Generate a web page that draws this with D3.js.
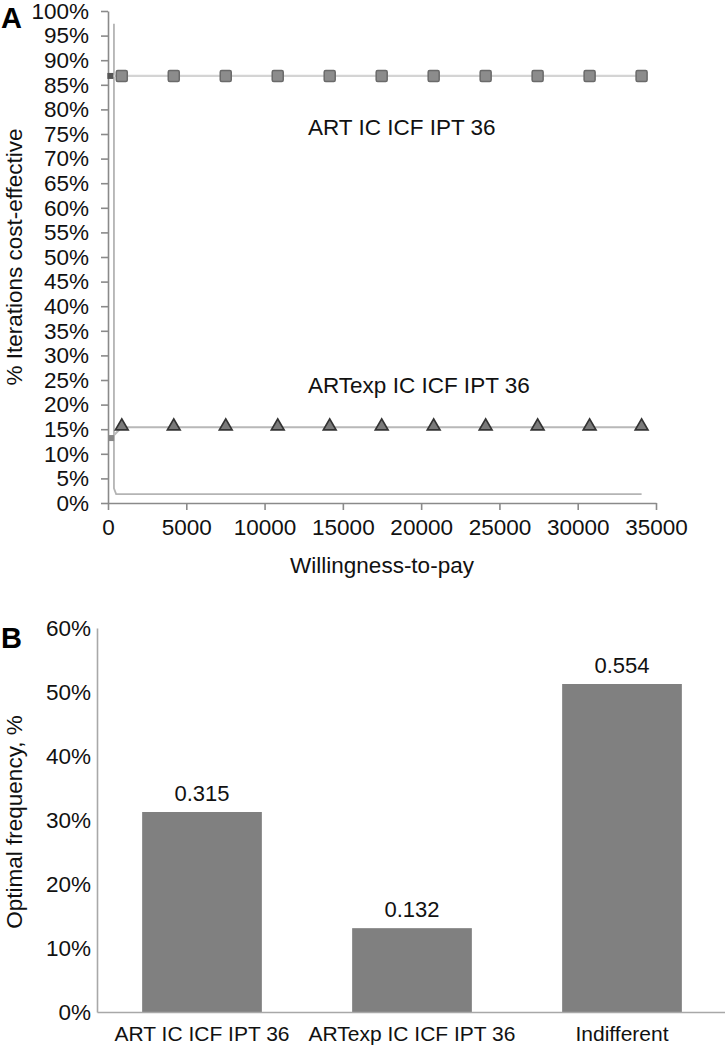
<!DOCTYPE html>
<html>
<head>
<meta charset="utf-8">
<script src="https://cdn.jsdelivr.net/npm/d3@7"></script>
<style>
  html, body { margin: 0; padding: 0; background: #fff; }
  svg { display: block; font-family: "Liberation Sans", Arial, sans-serif; }
</style>
</head>
<body>
<svg id="chart" width="725" height="1050"></svg>
<script>
// ---------- Panel A data ----------
const wtpTicks = [0, 5000, 10000, 15000, 20000, 25000, 30000, 35000];
const pctTicksA = [0,0.05,0.10,0.15,0.20,0.25,0.30,0.35,0.40,0.45,0.50,0.55,0.60,0.65,0.70,0.75,0.80,0.85,0.90,0.95,1.00];
const wtpPoints = [880, 4200, 7520, 10840, 14160, 17480, 20800, 24120, 27440, 30760, 34080];
const artValues = [0.868, 0.868, 0.868, 0.868, 0.868, 0.868, 0.868, 0.868, 0.868, 0.868, 0.868];
const artexpValues = [0.154, 0.154, 0.154, 0.154, 0.154, 0.154, 0.154, 0.154, 0.154, 0.154, 0.154];
const artStart = { wtp: 150, value: 0.868 };
const artexpStart = { wtp: 200, value: 0.132 };
const thirdWtp = [380, 380, 520, 880, 4200, 7520, 10840, 14160, 17480, 20800, 24120, 27440, 30760, 34080];
const thirdValues = [0.974, 0.03, 0.018, 0.018, 0.018, 0.018, 0.018, 0.018, 0.018, 0.018, 0.018, 0.018, 0.018, 0.018];
const labelArt = "ART IC ICF IPT 36";
const labelArtexp = "ARTexp IC ICF IPT 36";

// ---------- Panel B data ----------
const categoriesB = ["ART IC ICF IPT 36", "ARTexp IC ICF IPT 36", "Indifferent"];
const valuesB = [0.3125, 0.131, 0.5125];          // bar heights as drawn in the picture
const valueLabelsB = ["0.315", "0.132", "0.554"]; // data labels printed above bars
const pctTicksB = [0, 0.1, 0.2, 0.3, 0.4, 0.5, 0.6];

const svg = d3.select("#chart");

// ================= Panel A =================
const xA = d3.scaleLinear().domain([0, 35000]).range([108, 656]);
const yA = d3.scaleLinear().domain([0, 1]).range([503, 11]);
const gA = svg.append("g");

// Y axis
const yAxisA = d3.axisLeft(yA).tickValues(pctTicksA).tickFormat(d3.format(".0%"))
  .tickSizeInner(7).tickSizeOuter(0).tickPadding(12);
const gyA = gA.append("g").attr("transform", "translate(108,0)").call(yAxisA);
gyA.select(".domain").attr("stroke", "#8a8a8a").attr("stroke-width", 1.6);
gyA.selectAll(".tick line").attr("stroke", "#8a8a8a").attr("stroke-width", 1.6);
gyA.selectAll(".tick text").attr("font-size", 22.5).attr("fill", "#111")
  .attr("font-family", "Liberation Sans, Arial, sans-serif");

// X axis
const xAxisA = d3.axisBottom(xA).tickValues(wtpTicks).tickFormat(d3.format("d"))
  .tickSizeInner(7).tickSizeOuter(0).tickPadding(9);
const gxA = gA.append("g").attr("transform", "translate(0,503)").call(xAxisA);
gxA.select(".domain").attr("stroke", "#8a8a8a").attr("stroke-width", 1.6);
gxA.selectAll(".tick line").attr("stroke", "#8a8a8a").attr("stroke-width", 1.6);
gxA.selectAll(".tick text").attr("font-size", 22.5).attr("fill", "#111")
  .attr("font-family", "Liberation Sans, Arial, sans-serif");

// Third series (light line, vertical then flat)
const thirdData = thirdWtp.map((w, i) => ({ w, v: thirdValues[i] }));
gA.append("path").datum(thirdData)
  .attr("d", d3.line().x(d => xA(d.w)).y(d => yA(d.v)).curve(d3.curveLinear))
  .attr("fill", "none").attr("stroke", "#b4b4b4").attr("stroke-width", 1.8);

// ART series
const artData = [{ w: artStart.wtp, v: artStart.value }].concat(wtpPoints.map((w, i) => ({ w, v: artValues[i] })));
gA.append("path").datum(artData)
  .attr("d", d3.line().x(d => xA(d.w)).y(d => yA(d.v)))
  .attr("fill", "none").attr("stroke", "#d4d4d4").attr("stroke-width", 2.2);
gA.append("rect")
  .attr("x", xA(artStart.wtp) - 3).attr("y", yA(artStart.value) - 3)
  .attr("width", 6).attr("height", 6).attr("fill", "#555");
gA.selectAll("rect.artm").data(wtpPoints.map((w, i) => ({ w, v: artValues[i] })))
  .join("rect").attr("class", "artm")
  .attr("x", d => xA(d.w) - 5.5).attr("y", d => yA(d.v) - 5.5)
  .attr("width", 11).attr("height", 11).attr("rx", 1.5)
  .attr("fill", "#8c8c8c").attr("stroke", "#6a6a6a").attr("stroke-width", 1.5);

// ARTexp series
const artexpData = [{ w: artexpStart.wtp, v: artexpStart.value }].concat(wtpPoints.map((w, i) => ({ w, v: artexpValues[i] })));
gA.append("path").datum(artexpData)
  .attr("d", d3.line().x(d => xA(d.w)).y(d => yA(d.v)))
  .attr("fill", "none").attr("stroke", "#b8b8b8").attr("stroke-width", 2);
gA.append("rect")
  .attr("x", xA(artexpStart.wtp) - 3).attr("y", yA(artexpStart.value) - 3)
  .attr("width", 6).attr("height", 6).attr("fill", "#888");
const tri = d3.symbol().type(d3.symbolTriangle).size(70);
gA.selectAll("path.trim").data(wtpPoints.map((w, i) => ({ w, v: artexpValues[i] })))
  .join("path").attr("class", "trim")
  .attr("d", tri)
  .attr("transform", d => `translate(${xA(d.w)},${yA(d.v) - 1})`)
  .attr("fill", "#7a7a7a").attr("stroke", "#333").attr("stroke-width", 1.7);

// Series labels
gA.append("text").attr("x", 308).attr("y", 135).attr("font-size", 22.5).attr("fill", "#111").text(labelArt);
gA.append("text").attr("x", 308).attr("y", 393).attr("font-size", 22.5).attr("fill", "#111").text(labelArtexp);

// Axis titles
gA.append("text").attr("x", 382).attr("y", 573).attr("text-anchor", "middle")
  .attr("font-size", 22.5).attr("fill", "#111").text("Willingness-to-pay");
gA.append("text").attr("transform", "translate(22,257) rotate(-90)").attr("text-anchor", "middle")
  .attr("font-size", 22.5).attr("fill", "#111").text("% Iterations cost-effective");

// Panel letter
svg.append("text").attr("x", 1).attr("y", 28).attr("font-size", 29).attr("font-weight", "bold")
  .attr("fill", "#000").text("A");

// ================= Panel B =================
const xB = d3.scaleBand().domain(categoriesB).range([97, 727]).paddingInner(0.43).paddingOuter(0.215);
const yB = d3.scaleLinear().domain([0, 0.6]).range([1012, 628]);
const gB = svg.append("g");

const yAxisB = d3.axisLeft(yB).tickValues(pctTicksB).tickFormat(d3.format(".0%"))
  .tickSize(0).tickPadding(6);
const gyB = gB.append("g").attr("transform", "translate(97,0)").call(yAxisB);
gyB.select(".domain").attr("stroke", "#a8a8a8").attr("stroke-width", 1.6);
gyB.selectAll(".tick text").attr("font-size", 22.5).attr("fill", "#111")
  .attr("font-family", "Liberation Sans, Arial, sans-serif");

const barData = categoriesB.map((c, i) => ({ c, v: valuesB[i], t: valueLabelsB[i] }));
gB.selectAll("rect.bar").data(barData)
  .join("rect").attr("class", "bar")
  .attr("x", d => xB(d.c)).attr("width", xB.bandwidth())
  .attr("y", d => yB(d.v)).attr("height", d => yB(0) - yB(d.v))
  .attr("fill", "#808080");

const xAxisB = d3.axisBottom(xB).tickSize(0).tickPadding(14);
const gxB = gB.append("g").attr("transform", "translate(0,1012)").call(xAxisB);
gxB.select(".domain").attr("stroke", "#a8a8a8").attr("stroke-width", 1.6);
gxB.selectAll(".tick text").attr("font-size", 21).attr("fill", "#111")
  .attr("font-family", "Liberation Sans, Arial, sans-serif");

gB.selectAll("text.vlab").data(barData)
  .join("text").attr("class", "vlab")
  .attr("x", d => xB(d.c) + xB.bandwidth() / 2).attr("y", d => yB(d.v) - 11)
  .attr("text-anchor", "middle").attr("font-size", 22).attr("fill", "#111")
  .text(d => d.t);

gB.append("text").attr("transform", "translate(22,822) rotate(-90)").attr("text-anchor", "middle")
  .attr("font-size", 22.5).attr("fill", "#111").text("Optimal frequency, %");

svg.append("text").attr("x", 1).attr("y", 648).attr("font-size", 29).attr("font-weight", "bold")
  .attr("fill", "#000").text("B");
</script>
</body>
</html>
